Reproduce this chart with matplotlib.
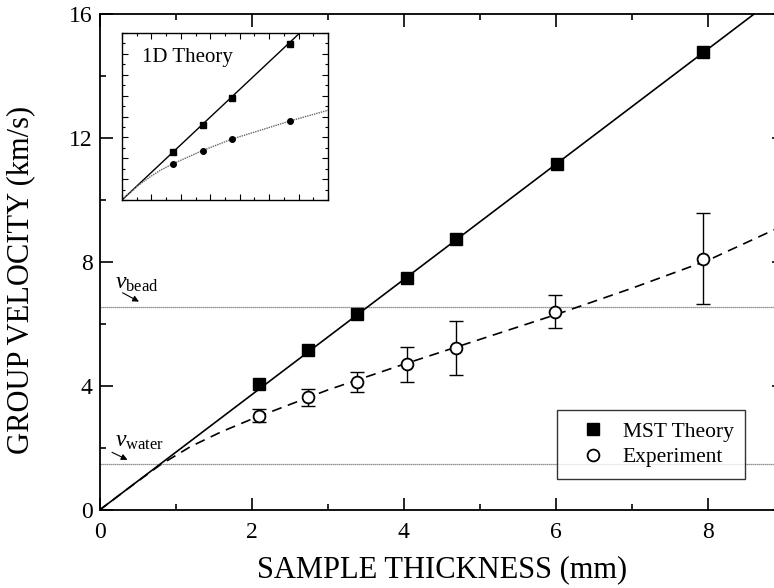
import numpy as np
import matplotlib
matplotlib.use("Agg")
import matplotlib.pyplot as plt
from matplotlib.ticker import MultipleLocator

plt.rcParams['font.family'] = ['Liberation Serif', 'DejaVu Serif']
plt.rcParams['mathtext.fontset'] = 'custom'
plt.rcParams['mathtext.rm'] = 'Liberation Serif'
plt.rcParams['mathtext.it'] = 'Liberation Serif:italic'

# multiple-scattering theory points (mm, km/s)
mst_thickness = [2.10, 2.74, 3.39, 4.04, 4.69, 6.02, 7.94]
mst_velocity = [4.06, 5.16, 6.32, 7.50, 8.74, 11.15, 14.77]

# theory line through the origin
mst_line_x = [0.0, 9.0]
mst_line_y = [0.0, 16.72]

# measured group velocity with error bars
exp_thickness = [2.10, 2.74, 3.39, 4.04, 4.69, 5.99, 7.94]
exp_velocity = [3.03, 3.63, 4.13, 4.71, 5.23, 6.39, 8.10]
exp_err_low = [0.19, 0.28, 0.32, 0.58, 0.88, 0.52, 1.45]
exp_err_high = [0.23, 0.27, 0.32, 0.55, 0.87, 0.55, 1.48]

# fitted curve through the measurements
fit_x = [0.0, 0.4, 0.8, 1.2, 1.6, 2.0, 3.0, 4.0, 5.0, 6.0, 7.0, 8.0, 9.0]
fit_y = [0.0, 0.74, 1.46, 2.05, 2.52, 2.93, 3.87, 4.70, 5.50, 6.30, 7.15, 8.05, 9.18]

v_bead = 6.55
v_water = 1.48

# 1D theory inset (arbitrary units)
inset_sq_x = [1.74, 2.74, 3.74, 5.72]
inset_sq_y = [2.29, 3.60, 4.89, 7.49]
inset_line_x = [0.0, 7.0]
inset_line_y = [0.0, 9.27]
inset_dot_x = [1.74, 2.74, 3.74, 5.72]
inset_dot_y = [1.74, 2.37, 2.92, 3.79]
inset_curve_x = [0.0, 0.5, 1.0, 1.3, 1.74, 2.74, 3.74, 4.7, 5.72, 7.0]
inset_curve_y = [0.0, 0.65, 1.15, 1.42, 1.74, 2.37, 2.92, 3.34, 3.79, 4.30]

fig = plt.figure(figsize=(7.74, 5.88), dpi=100)
W, H = 774.0, 588.0
ax = fig.add_axes([99.6 / W, (H - 510) / H, 684 / W, 496 / H])

ax.axhline(v_bead, color='0.45', lw=0.9, ls=(0, (1, 0.6)), zorder=1)
ax.axhline(v_water, color='0.45', lw=0.9, ls=(0, (1, 0.6)), zorder=1)

ax.plot(mst_line_x, mst_line_y, color='k', lw=1.2, zorder=2)
ax.plot(fit_x, fit_y, color='k', lw=1.2, ls=(0, (6, 4)), zorder=2)

ax.errorbar(exp_thickness, exp_velocity, yerr=[exp_err_low, exp_err_high],
            fmt='none', ecolor='k', elinewidth=1.0, capsize=5, capthick=1.0, zorder=3)
ax.plot(mst_thickness, mst_velocity, ls='none', marker='s', ms=8,
        mfc='k', mec='k', label='MST Theory', zorder=4)
ax.plot(exp_thickness, exp_velocity, ls='none', marker='o', ms=8.5,
        mfc='white', mec='k', mew=1.3, label='Experiment', zorder=4)

ax.set_xlim(0, 9)
ax.set_ylim(0, 16)
ax.xaxis.set_major_locator(MultipleLocator(2))
ax.xaxis.set_minor_locator(MultipleLocator(1))
ax.yaxis.set_major_locator(MultipleLocator(4))
ax.yaxis.set_minor_locator(MultipleLocator(2))
ax.tick_params(which='both', direction='in', top=True, right=True,
               width=1.2, labelsize=17)
ax.tick_params(which='major', length=9)
ax.tick_params(which='minor', length=4.5)
ax.tick_params(axis='x', which='major', pad=9)
ax.tick_params(axis='y', which='major', pad=5)
for sp in ax.spines.values():
    sp.set_linewidth(1.3)

ax.set_xlabel('SAMPLE THICKNESS (mm)', fontsize=22, labelpad=8.5)
ax.set_ylabel('GROUP VELOCITY (km/s)', fontsize=22)
ax.yaxis.set_label_coords(-0.094, 0.464)

# labels for the bead and water speeds
ax.text(0.2, 7.15, r'$v_{\mathrm{bead}}$', fontsize=17)
ax.annotate('', xy=(0.55, 6.68), xytext=(0.27, 7.05),
            arrowprops=dict(arrowstyle='-|>', color='k', lw=0.8, mutation_scale=9))
ax.text(0.2, 2.05, r'$v_{\mathrm{water}}$', fontsize=17)
ax.annotate('', xy=(0.4, 1.58), xytext=(0.13, 1.9),
            arrowprops=dict(arrowstyle='-|>', color='k', lw=0.8, mutation_scale=9))

leg = ax.legend(loc='lower left', bbox_to_anchor=((557 - 99.6) / 684, (510 - 479) / 496),
                fontsize=15.5, frameon=True, fancybox=False, edgecolor='k',
                handletextpad=0.3, borderpad=0.55, labelspacing=0.25,
                handlelength=2.2, borderaxespad=0)
leg.get_frame().set_linewidth(1.0)

# inset: 1D theory
axi = fig.add_axes([122 / W, (H - 200) / H, 206 / W, 167 / H])
axi.plot(inset_line_x, inset_line_y, color='k', lw=1.0)
axi.plot(inset_curve_x, inset_curve_y, color='0.4', lw=1.0, ls=(0, (1, 0.7)))
axi.plot(inset_sq_x, inset_sq_y, ls='none', marker='s', ms=4, color='k')
axi.plot(inset_dot_x, inset_dot_y, ls='none', marker='o', ms=4, color='k')
axi.set_xlim(0, 7)
axi.set_ylim(0, 8)
axi.xaxis.set_major_locator(MultipleLocator(1))
axi.xaxis.set_minor_locator(MultipleLocator(0.5))
axi.yaxis.set_major_locator(MultipleLocator(1))
axi.yaxis.set_minor_locator(MultipleLocator(0.5))
axi.tick_params(which='both', direction='in', top=True, right=True,
                labelbottom=False, labelleft=False, width=0.8)
axi.tick_params(which='major', length=4)
axi.tick_params(which='minor', length=2.5)
for sp in axi.spines.values():
    sp.set_linewidth(1.0)
axi.text(0.096, 0.828, '1D Theory', transform=axi.transAxes, fontsize=15)

fig.savefig('out.png', dpi=100)
